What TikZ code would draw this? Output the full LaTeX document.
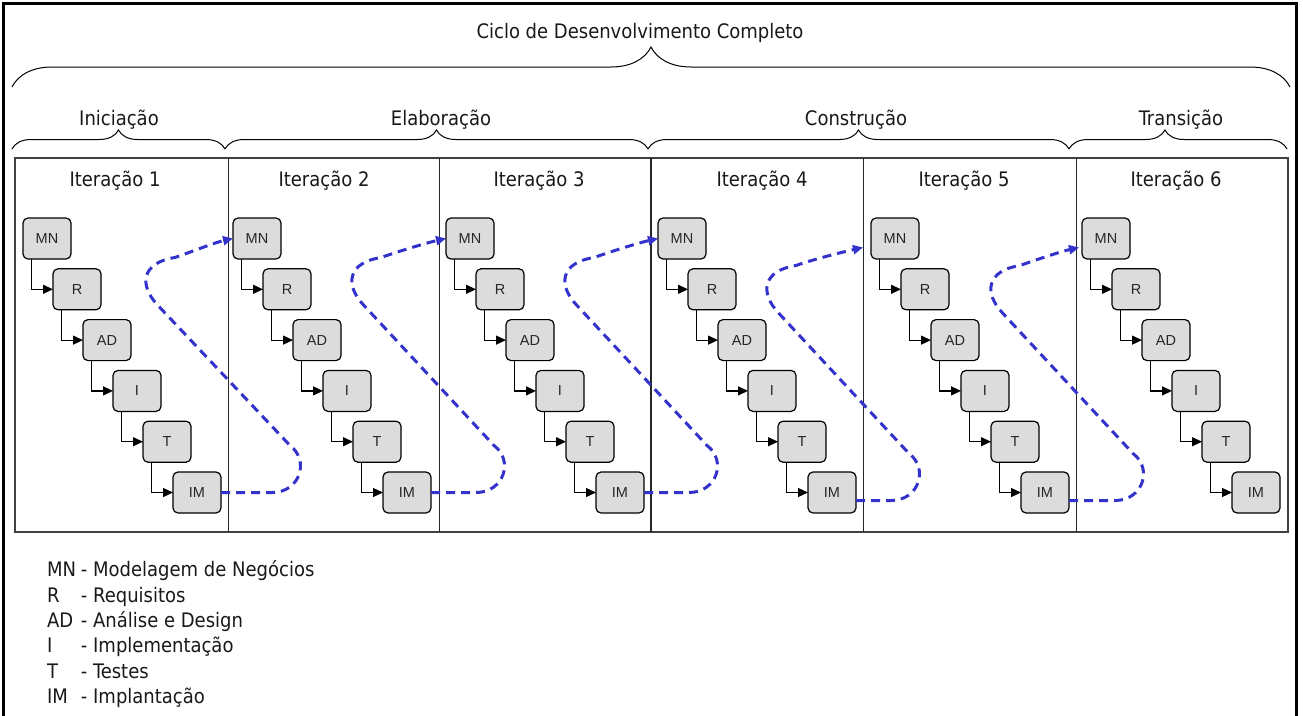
\documentclass[tikz,border=0pt]{standalone}
\usepackage{fontspec}
\setmainfont{DejaVu Sans Condensed}
\newfontfamily\boxfont{Liberation Sans}
\usetikzlibrary{arrows.meta,decorations.pathreplacing,calc}
\definecolor{loopblue}{RGB}{51,51,204}
\definecolor{boxgray}{RGB}{220,220,220}

% dashed return path from the last task of one iteration to the first of the next
% #1 start, #2 end, #3 reach to the right, #4 reach to the left
\newcommand\backloop[4]{%
  \draw[loopback] (#1) -- ($(#1)+(#3-30,0)$)
    .. controls ($(#1)+(#3-2,0)$) and ($(#1)+(#3+8,-32)$) .. ($(#1)+(#3-12,-47)$)
    -- ($(#1)+(-#4+13,-187)$)
    .. controls ($(#1)+(-#4-7,-208)$) and ($(#1)+(-#4-3,-230)$) .. ($(#1)+(-#4+30,-235)$)
    .. controls ($(#1)+(-#4+50,-242)$) and ($(#2)+(-18,4)$) .. (#2);
}

\begin{document}
\begin{tikzpicture}[x=1pt,y=-1pt,
  every node/.style={inner sep=0pt, outer sep=0pt},
  txt/.style={font=\fontsize{20}{24}\selectfont, text=black!90, anchor=base},
  task/.style={draw=black, line width=1.2pt, fill=boxgray, rounded corners=5pt,
    minimum width=48pt, minimum height=41pt,
    font=\boxfont\fontsize{14.5}{17}\selectfont, text=black!85},
  flow/.style={line width=1.2pt, -{Triangle[length=10pt,width=9pt]}},
  loopback/.style={loopblue, line width=3pt, dash pattern=on 9pt off 6pt,
    -{Triangle[length=10pt,width=9pt]}},
  curly/.style={decorate, decoration={brace, amplitude=#1}, line width=1pt},
  divider/.style={line width=1pt, draw=black!85},
]
\useasboundingbox (0,0) rectangle (1303,715);

% outer frame
\draw[line width=3pt] (3,720) -- (3,3) -- (1296,3) -- (1296,720);

% whole cycle
\node[txt] (cycle) at (640,38) {Ciclo de Desenvolvimento Completo};
\draw[curly=40pt] (12,87) -- (1290,87);

% phases
\node[txt] (ini) at (119,125) {Iniciação};
\node[txt] (ela) at (441,125) {Elaboração};
\node[txt] (con) at (856,125) {Construção};
\node[txt] (tra) at (1181,125) {Transição};
\draw[curly=19pt] (12,149) -- (225,149);
\draw[curly=19pt] (225,149) -- (648,149);
\draw[curly=19pt] (648,149) -- (1069,149);
\draw[decorate, decoration={brace, amplitude=19pt, aspect=0.44}, line width=1pt] (1069,149) -- (1287,149);

% iteration panel
\draw[line width=1.3pt, draw=black!75] (15,158) rectangle (1288,532);
\draw[divider] (228,158) -- (228,532);
\draw[divider] (439,158) -- (439,532);
\draw[divider, line width=2pt] (651,158) -- (651,532);
\draw[divider] (863,158) -- (863,532);
\draw[divider] (1076,158) -- (1076,532);

\node[txt] (it1) at (115,186) {Iteração 1};
\node[txt] (it2) at (324,186) {Iteração 2};
\node[txt] (it3) at (539,186) {Iteração 3};
\node[txt] (it4) at (762,186) {Iteração 4};
\node[txt] (it5) at (964,186) {Iteração 5};
\node[txt] (it6) at (1176,186) {Iteração 6};

% disciplines of each iteration, as a staircase
\foreach \c/\x in {1/23,2/233,3/446,4/658,5/871,6/1082} {
  \foreach \k/\t in {0/MN,1/R,2/AD,3/I,4/T,5/IM} {
    \node[task] (\t\c) at ({\x+24+30*\k},{238.5+50.8*\k}) {\t};
  }
  \draw[flow] ([xshift=8.5pt]MN\c.south west) |- (R\c.west);
  \draw[flow] ([xshift=8.5pt]R\c.south west) |- (AD\c.west);
  \draw[flow] ([xshift=8.5pt]AD\c.south west) |- (I\c.west);
  \draw[flow] ([xshift=8.5pt]I\c.south west) |- (T\c.west);
  \draw[flow] ([xshift=8.5pt]T\c.south west) |- (IM\c.west);
}

% feedback into the next iteration
\coordinate (in5) at ([shift={(-8,9)}]MN5.west);
\coordinate (in6) at ([shift={(-3,9)}]MN6.west);
\backloop{IM1.east}{MN2.west}{81}{76}
\backloop{IM2.east}{MN3.west}{75}{80}
\backloop{IM3.east}{MN4.west}{75}{80}
\backloop{[yshift=-8pt]IM4.east}{in5}{65}{90}
\backloop{[yshift=-8pt]IM5.east}{in6}{76}{79}

% legend
\node[anchor=north west, font=\fontsize{20}{25.4}\selectfont, text=black!90] (legend) at (47,559)
  {\begin{tabular}{@{}l@{\hspace{5pt}}l@{}}
   MN & - Modelagem de Negócios\\
   R  & - Requisitos\\
   AD & - Análise e Design\\
   I  & - Implementação\\
   T  & - Testes\\
   IM & - Implantação
   \end{tabular}};
\end{tikzpicture}
\end{document}
